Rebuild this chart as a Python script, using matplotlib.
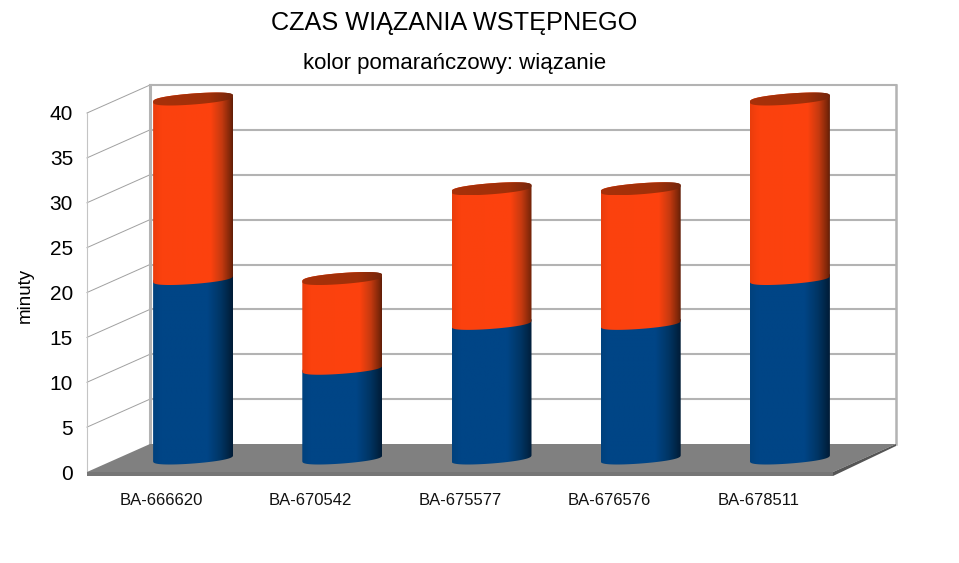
import matplotlib
matplotlib.use("Agg")
import matplotlib.pyplot as plt
import numpy as np
from matplotlib.colors import LinearSegmentedColormap
from matplotlib.path import Path
from matplotlib.patches import Polygon
from matplotlib.transforms import Affine2D

plt.rcParams['font.family'] = ['Liberation Sans', 'DejaVu Sans']

categories = ["BA-666620", "BA-670542", "BA-675577", "BA-676576", "BA-678511"]
lower_values = [20, 10, 15, 15, 20]
upper_values = [20, 10, 15, 15, 20]
y_ticks = [0, 5, 10, 15, 20, 25, 30, 35, 40]

W, H = 959, 563
DEPTH_X, DEPTH_Y = 63, 28
PX_PER_CAT = 149.2
PX_PER_VAL = (472 - 113) / 40

blue_map = LinearSegmentedColormap.from_list("b", [(0, "#00417d"), (0.1, "#004586"), (0.68, "#004586"),
                                                    (0.85, "#003564"), (1, "#001c36")])
orange_map = LinearSegmentedColormap.from_list("o", [(0, "#ea3d0c"), (0.1, "#fb410e"), (0.72, "#fd420e"),
                                                      (0.86, "#c63a10"), (0.97, "#7c2609"), (1, "#5f1d07")])
top_map = LinearSegmentedColormap.from_list("t", [(0, "#a8300a"), (0.7, "#a03009"), (1, "#74260c")])

fig = plt.figure(figsize=(W / 100, H / 100), dpi=100, facecolor="white")
ax = fig.add_axes([87 / W, (H - 472) / H, (833 - 87) / W, (472 - 113) / H])
ax.set_facecolor("none")
for s in ax.spines.values():
    s.set_visible(False)

x0, x1 = -0.5, 4.5
ax.set_xlim(x0, x1)
ax.set_ylim(0, 40)


def plane(d):
    # d=0 front edge of the floor, d=1 back wall
    return ax.transData + Affine2D().translate(DEPTH_X * d, DEPTH_Y * d)


back = plane(1)
front = plane(0)

# back wall and left wall
for v in y_ticks[1:]:
    ax.plot([x0, x1], [v, v], color="#b3b3b3", lw=1.5, transform=back, clip_on=False, zorder=2)
    xa, ya = front.transform((x0, v))
    xb, yb = back.transform((x0, v))
    ax.plot([xa, xb], [ya, yb], color="#a0a0a0", lw=0.7, transform=None, clip_on=False, zorder=2)
ax.plot([x0, x0], [0, 40], color="#b3b3b3", lw=2.2, transform=back, clip_on=False, zorder=2)
ax.plot([x1, x1], [0, 40], color="#b3b3b3", lw=1.8, transform=back, clip_on=False, zorder=2)
ax.plot([x0, x0], [0, 40], color="#c4c4c4", lw=0.8, transform=front, clip_on=False, zorder=2)

# floor with its front and side strips
p = [front.transform((x0, 0)), front.transform((x1, 0)), back.transform((x1, 0)), back.transform((x0, 0))]
ax.add_patch(Polygon(p, closed=True, fc="#808080", ec="none", transform=None, clip_on=False, zorder=3))
strip = 4
ax.add_patch(Polygon([p[0], p[1], (p[1][0], p[1][1] - strip), (p[0][0], p[0][1] - strip)], closed=True,
                     fc="#767676", ec="none", transform=None, clip_on=False, zorder=3))
ax.add_patch(Polygon([p[1], p[2], (p[2][0], p[2][1] - strip + 2), (p[1][0], p[1][1] - strip)], closed=True,
                     fc="#555555", ec="none", transform=None, clip_on=False, zorder=3))

# cylinders
mid = plane(0.5)
half = 40 / PX_PER_CAT
t_low = np.linspace(np.pi, 2 * np.pi, 80)
t_up = np.linspace(0, np.pi, 80)


def arc(c, v, t):
    # rounded ends like the original cylinders
    s = np.sin(t)
    s = np.sign(s) * np.abs(s) ** 0.7
    return np.column_stack([c + half * np.cos(t), v + (3 * np.cos(t) + 5.5 * s) / PX_PER_VAL])


def gradient_piece(verts, cmap, c, zorder):
    path = Path(np.vstack([verts, verts[:1]]), closed=True)
    grad = np.linspace(0, 1, 256).reshape(1, -1)
    ys = verts[:, 1]
    im = ax.imshow(grad, cmap=cmap, aspect="auto", origin="lower", interpolation="bilinear",
                   extent=(c - half, c + half, ys.min(), ys.max()), transform=mid, zorder=zorder)
    im.set_clip_box(fig.bbox)
    im.set_clip_path(path, mid)


for i, (lo, up) in enumerate(zip(lower_values, upper_values)):
    total = lo + up
    gradient_piece(np.vstack([arc(i, 0, t_low), arc(i, lo, t_up)]), blue_map, i, 4 + i * 0.1)
    gradient_piece(np.vstack([arc(i, lo, t_low), arc(i, total, t_up)]), orange_map, i, 4.03 + i * 0.1)
    gradient_piece(np.vstack([arc(i, total, t_low), arc(i, total, t_up)]), top_map, i, 4.06 + i * 0.1)

ax.set_xlim(x0, x1)
ax.set_ylim(0, 40)
ax.set_xticks(range(len(categories)))
ax.set_xticklabels(categories, fontsize=12, color="#111111")
ax.set_yticks(y_ticks)
ax.set_yticklabels([str(v) for v in y_ticks], fontsize=15)
ax.tick_params(axis="both", length=0)
ax.tick_params(axis="x", pad=15)
ax.tick_params(axis="y", pad=10)
ax.set_ylabel("minuty", fontsize=13.5)
ax.yaxis.set_label_coords((34 - 87) / (833 - 87), (472 - 295) / (472 - 113))

fig.text(454.5 / W, 1 - 23 / H, "CZAS WIĄZANIA WSTĘPNEGO", ha="center", va="center", fontsize=18.2)
fig.text(454.5 / W, 1 - 63 / H, "kolor pomarańczowy: wiązanie", ha="center", va="center", fontsize=16)

fig.savefig("out.png", dpi=100)
